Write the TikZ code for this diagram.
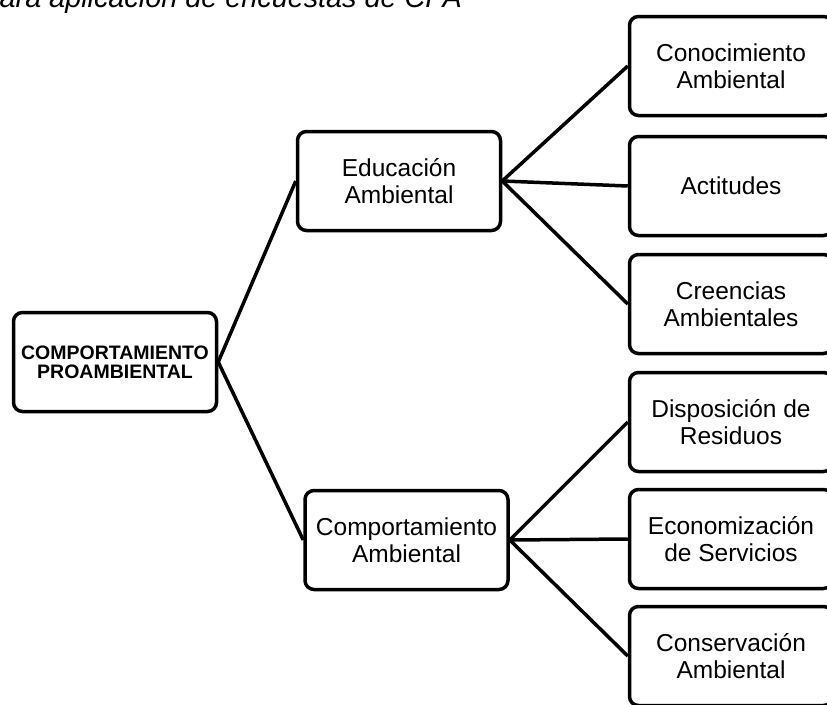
\documentclass[tikz,border=0pt]{standalone}
\usepackage{fontspec}
\setmainfont{Liberation Sans}

\begin{document}
\begin{tikzpicture}[x=1pt, y=-1pt,
    box/.style={draw, line width=3.5pt, rounded corners=9pt, fill=white, minimum width=203pt, minimum height=99pt, align=center, inner sep=0pt, font=\fontsize{24.5}{27}\selectfont},
    link/.style={line width=3.5pt}]
    \useasboundingbox (0,0) rectangle (827,704);
    \clip (0,0) rectangle (827,704);
    \node (title) at (462,8) [anchor=base east, inner sep=0pt, font=\itshape\fontsize{28.8}{30}\selectfont] {ara aplicación de encuestas de CPA};
    \node (root) at (115,362) [box, font=\bfseries\fontsize{19.5}{19}\selectfont] {COMPORTAMIENTO\\PROAMBIENTAL};
    \node (edu) at (399,181) [box] {Educación\\Ambiental};
    \node (comp) at (406.5,540) [box] {Comportamiento\\Ambiental};
    \node (conoc) at (731,66) [box] {Conocimiento\\Ambiental};
    \node (actit) at (731,186) [box] {Actitudes};
    \node (creen) at (731,304) [box] {Creencias\\Ambientales};
    \node (dispo) at (731,422) [box] {Disposición de\\Residuos};
    \node (econ) at (731,539) [box] {Economización\\de Servicios};
    \node (conse) at (731,656) [box] {Conservación\\Ambiental};
    \draw [link] (root.east) -- (edu.west);
    \draw [link] (root.east) -- (comp.west);
    \draw [link] (edu.east) -- (conoc.west);
    \draw [link] (edu.east) -- (actit.west);
    \draw [link] (edu.east) -- (creen.west);
    \draw [link] (comp.east) -- (dispo.west);
    \draw [link] (comp.east) -- (econ.west);
    \draw [link] (comp.east) -- (conse.west);
\end{tikzpicture}
\end{document}
